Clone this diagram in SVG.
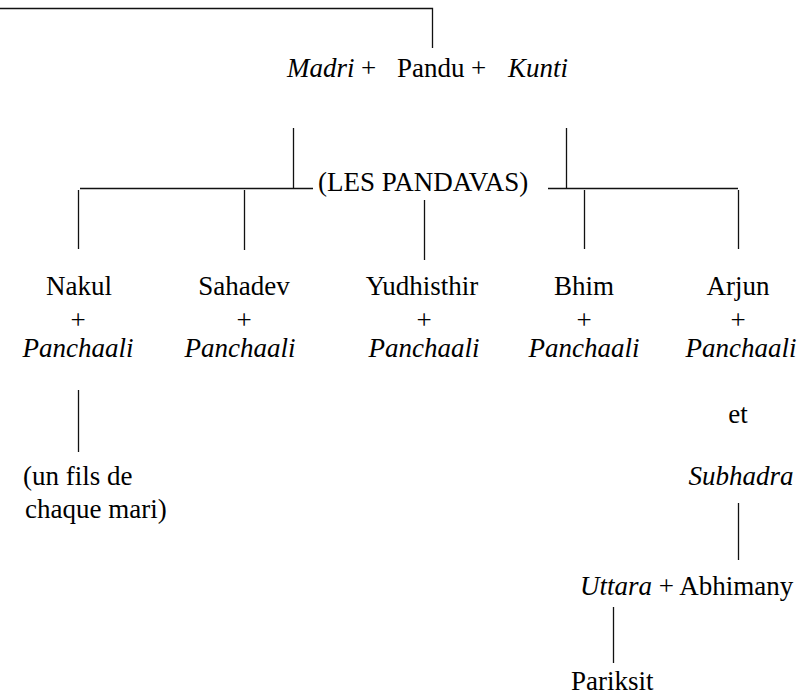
<svg xmlns="http://www.w3.org/2000/svg" width="799" height="696" viewBox="0 0 799 696">
<style>
text{font-family:"Liberation Serif","Times New Roman",serif;font-size:27px;fill:#000}
.i{font-style:italic}
.c{text-anchor:middle}
#connectors path{fill:none;stroke:#111;stroke-width:1.3}
</style>
<rect width="799" height="696" fill="#fff"/>
<g id="connectors">
<path d="M0 8.5H432.5V48"/>
<path d="M293.5 128V189"/>
<path d="M566.5 128V189"/>
<path d="M80 188.5H313"/>
<path d="M548 188.5H738"/>
<path d="M78.5 190V249"/>
<path d="M244.5 190V250"/>
<path d="M424.5 200V260"/>
<path d="M584.5 190V249"/>
<path d="M738.5 190V249"/>
<path d="M78.5 390V452"/>
<path d="M738.5 503V560"/>
<path d="M613.5 607V663"/>
</g>
<g id="parents">
<text x="287" y="77" class="i">Madri</text>
<text x="361" y="77">+</text>
<text x="397" y="77">Pandu</text>
<text x="471" y="77">+</text>
<text x="508" y="77" class="i">Kunti</text>
</g>
<g id="pandavas">
<text x="318" y="191">(LES PANDAVAS)</text>
</g>
<g id="nakul">
<text x="79" y="295" class="c">Nakul</text>
<text x="78" y="329" class="c">+</text>
<text x="78" y="357" class="c i">Panchaali</text>
</g>
<g id="sahadev">
<text x="244" y="295" class="c">Sahadev</text>
<text x="244" y="329" class="c">+</text>
<text x="240" y="357" class="c i">Panchaali</text>
</g>
<g id="yudhisthir">
<text x="422" y="295" class="c">Yudhisthir</text>
<text x="424" y="329" class="c">+</text>
<text x="424" y="357" class="c i">Panchaali</text>
</g>
<g id="bhim">
<text x="584" y="295" class="c">Bhim</text>
<text x="584" y="329" class="c">+</text>
<text x="584" y="357" class="c i">Panchaali</text>
</g>
<g id="arjun">
<text x="738" y="295" class="c">Arjun</text>
<text x="738" y="329" class="c">+</text>
<text x="741" y="357" class="c i">Panchaali</text>
<text x="738" y="423" class="c">et</text>
<text x="741" y="485" class="c i">Subhadra</text>
</g>
<g id="fils">
<text x="23" y="485">(un fils de</text>
<text x="25" y="518">chaque mari)</text>
</g>
<g id="uttara">
<text x="580" y="595"><tspan class="i">Uttara</tspan> + Abhimany</text>
</g>
<g id="pariksit">
<text x="571" y="690">Pariksit</text>
</g>
</svg>
